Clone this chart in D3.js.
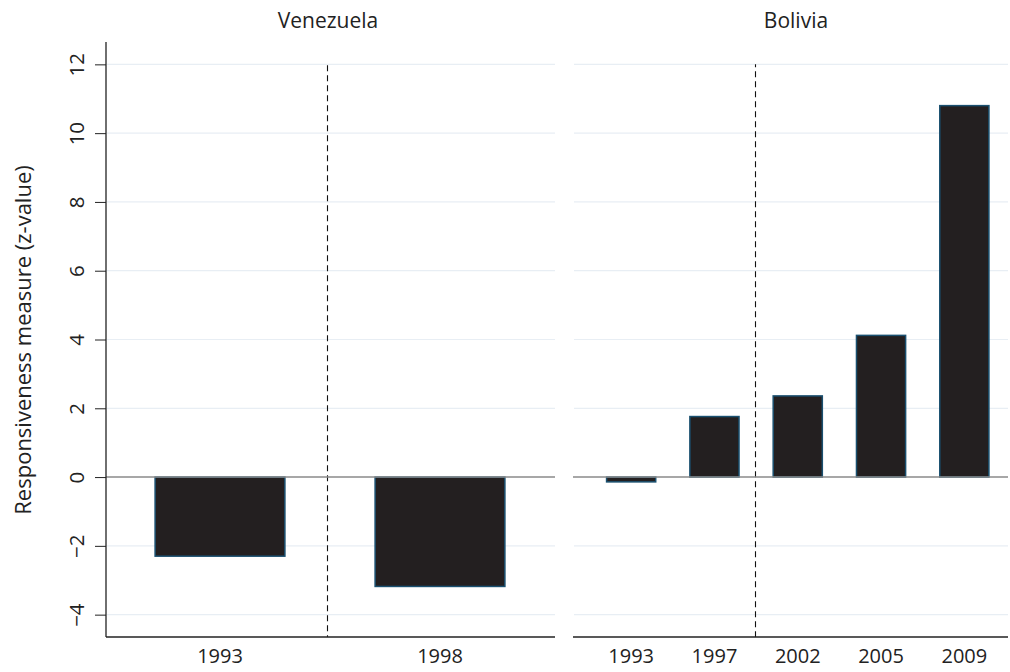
<!DOCTYPE html>
<html>
<head>
<meta charset="utf-8">
<script src="https://cdn.jsdelivr.net/npm/d3@7"></script>
<style>
  html, body { margin: 0; padding: 0; background: #fff; }
  svg { display: block; }
  text { font-family: "Open Sans", "Noto Sans", sans-serif; fill: #222; }
</style>
</head>
<body>
<svg id="chart" width="1010" height="672"></svg>
<script>
// Responsiveness (z-value) by election year, per country
const venezuelaYears = ["1993", "1998"];
const venezuelaValues = [-2.30, -3.18];
const boliviaYears = ["1993", "1997", "2002", "2005", "2009"];
const boliviaValues = [-0.14, 1.76, 2.36, 4.12, 10.80];
const yTicks = [-4, -2, 0, 2, 4, 6, 8, 10, 12];
// Dashed markers sit between these pairs of years
const venezuelaBreak = ["1993", "1998"];
const boliviaBreak = ["1997", "2002"];

const svg = d3.select("#chart");
const FONT = '"Open Sans", "Noto Sans", sans-serif';

const yTop = 42, yBottom = 637;
const y = d3.scaleLinear().domain([-4.65, 12.65]).range([yBottom, yTop]);

const panels = [
  { name: "Venezuela", years: venezuelaYears, values: venezuelaValues,
    brk: venezuelaBreak, x0: 106, x1: 555, bandRange: [110, 550], breakX: 327.5, titleX: 328 },
  { name: "Bolivia", years: boliviaYears, values: boliviaValues,
    brk: boliviaBreak, x0: 573, x1: 1008, bandRange: [589.5, 1006], breakX: 755.5, titleX: 796 }
];

panels.forEach(p => {
  const g = svg.append("g");
  const x = d3.scaleBand().domain(p.years).range(p.bandRange).paddingInner(0.41).paddingOuter(0.205);

  // horizontal gridlines
  g.selectAll("line.grid").data(yTicks.filter(t => t !== 0)).join("line")
    .attr("x1", p.x0 + 1).attr("x2", p.x1)
    .attr("y1", d => y(d)).attr("y2", d => y(d))
    .attr("stroke", "#e8eef4").attr("stroke-width", 1.2);

  // dashed divider between the two periods
  g.append("line")
    .attr("x1", p.breakX).attr("x2", p.breakX)
    .attr("y1", y(12)).attr("y2", yBottom)
    .attr("stroke", "#111").attr("stroke-width", 1.1)
    .attr("stroke-dasharray", "6,4").attr("stroke-dashoffset", p.name === "Venezuela" ? -1 : 3);

  // bars
  g.selectAll("rect.bar").data(p.years.map((yr, i) => ({ yr, v: p.values[i] }))).join("rect")
    .attr("x", d => x(d.yr))
    .attr("width", x.bandwidth())
    .attr("y", d => y(Math.max(0, d.v)))
    .attr("height", d => Math.abs(y(d.v) - y(0)))
    .attr("fill", "#231f20")
    .attr("stroke", "#1a5070").attr("stroke-width", 1.5);

  // zero line
  g.append("line")
    .attr("x1", p.x0).attr("x2", p.x1)
    .attr("y1", y(0)).attr("y2", y(0))
    .attr("stroke", "#8a8a8a").attr("stroke-width", 1.4);

  // x axis
  const xAxis = g.append("g")
    .attr("transform", `translate(0,${yBottom})`)
    .call(d3.axisBottom(x).tickSize(0).tickPadding(12));
  xAxis.select(".domain").remove();
  xAxis.append("line").attr("x1", p.x0).attr("x2", p.x1)
    .attr("stroke", "#222").attr("stroke-width", 1.3);
  xAxis.selectAll(".tick text")
    .style("font-family", FONT)
    .style("font-size", "20px").attr("fill", "#222");

  // panel title
  g.append("text")
    .attr("x", p.titleX)
    .attr("y", 28)
    .attr("text-anchor", "middle")
    .style("font-size", "21px")
    .text(p.name);
});

// y axis on the left panel
const yAxis = svg.append("g")
  .attr("transform", "translate(106,0)")
  .call(d3.axisLeft(y).tickValues(yTicks).tickSize(11).tickPadding(0)
    .tickFormat(d => d < 0 ? "\u2212" + Math.abs(d) : d));
yAxis.select(".domain").remove();
yAxis.append("line").attr("y1", yTop).attr("y2", yBottom)
  .attr("stroke", "#222").attr("stroke-width", 1.3);
yAxis.selectAll(".tick line").attr("stroke", "#222").attr("stroke-width", 1);
yAxis.selectAll(".tick text")
  .attr("x", null)
  .attr("transform", "translate(-29,0) rotate(-90)")
  .attr("text-anchor", "middle")
  .attr("dy", "0.35em")
  .style("font-family", FONT)
  .style("font-size", "20.5px").attr("fill", "#222");

// y axis title
svg.append("text")
  .attr("transform", `translate(31,340) rotate(-90)`)
  .attr("text-anchor", "middle")
  .style("font-size", "22px")
  .text("Responsiveness measure (z-value)");
</script>
</body>
</html>
